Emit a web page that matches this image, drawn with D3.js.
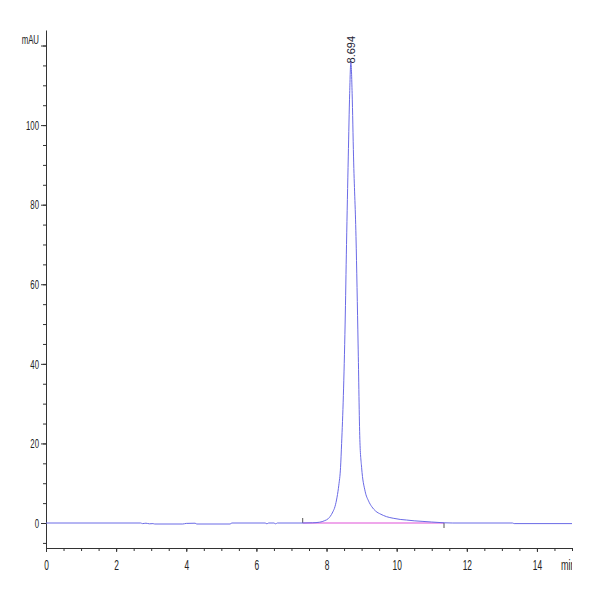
<!DOCTYPE html>
<html lang="en">
<head>
    <meta charset="UTF-8">
    <title>Chromatogram</title>
    <script src="https://d3js.org/d3.v7.min.js"></script>
    <style>
        body{
            margin: 0;
            background: white;
        }
        .axis text{
            font-family: "Liberation Sans", Arial, sans-serif;
            font-size: 13px;
            fill: #222;
        }
        .axis path, .axis line{
            stroke: #333;
        }
    </style>
</head>
<body>

<script>
    // retention time (min) and absorbance (mAU)
    const times = [0, 2.7, 2.75, 2.85, 2.95, 3.05, 3.1, 3.9, 4.0, 4.25, 4.3, 5.25, 5.3,
        6.25, 6.3, 6.35, 6.5, 6.55, 6.6, 7.3, 7.6, 7.8, 7.95, 8.05, 8.1, 8.18, 8.24,
        8.3, 8.35, 8.4, 8.43, 8.48, 8.53, 8.57, 8.62, 8.66, 8.694, 8.73, 8.77, 8.84,
        8.9, 8.95, 9.0, 9.1, 9.2, 9.29, 9.4, 9.55, 9.71, 9.9, 10.1, 10.28, 10.5,
        10.75, 11.0, 11.35, 11.6, 13.3, 13.35, 15]
    const mAU = [0, 0, -0.15, -0.05, -0.2, -0.15, -0.25, -0.25, -0.1, -0.05, -0.25, -0.25, 0,
        0, -0.2, 0, 0, -0.2, 0, 0, 0.05, 0.2, 0.6, 1.1, 1.6, 2.8, 4.1,
        6.5, 9.5, 14, 20, 32, 50, 70, 92, 108, 116, 108, 92, 72,
        45, 21, 14, 8, 5.5, 4.1, 3.0, 2.2, 1.6, 1.2, 0.9, 0.75, 0.55,
        0.4, 0.25, 0.05, 0, 0, -0.15, -0.15]

    // integration baseline and peak label
    const baseStart = [7.32, 0]
    const baseEnd = [11.35, 0]
    const peakLabel = "8.694"

    const xMajor = [0, 2, 4, 6, 8, 10, 12, 14]
    const yMajor = [0, 20, 40, 60, 80, 100, 120]

    const svg = d3.select("body").append("svg")
        .attr("width", 600)
        .attr("height", 600)

    const x = d3.scaleLinear().domain([0, 15]).range([46, 572])
    const y = d3.scaleLinear().domain([-6.28, 123.9]).range([548, 30])

    svg.append("clipPath").attr("id", "plot")
        .append("rect").attr("x", 0).attr("y", 0).attr("width", 572).attr("height", 600)

    // squeeze the tick text like the narrow font of the original
    function narrow(sel, k) {
        sel.each(function() {
            const w = this.getComputedTextLength()
            d3.select(this).attr("textLength", w * k).attr("lengthAdjust", "spacingAndGlyphs")
        })
    }

    // y axis, minor then major
    svg.append("g").attr("class", "axis")
        .attr("transform", "translate(46,0)")
        .call(d3.axisLeft(y).tickValues(d3.range(-5, 124, 5)).tickSize(3).tickFormat("").tickSizeOuter(0))
    svg.append("g").attr("class", "axis")
        .attr("transform", "translate(46,0)")
        .call(d3.axisLeft(y).tickValues(yMajor).tickSize(5).tickPadding(2).tickSizeOuter(0)
            .tickFormat(d => d == 120 ? "mAU" : d))
        .call(g => g.select(".domain").remove())
        .call(g => narrow(g.selectAll("text"), 0.6))
        .call(g => g.selectAll("text").filter(d => d == 120).attr("dy", "-0.15em"))

    // x axis
    svg.append("g").attr("class", "axis")
        .attr("transform", "translate(0,548)")
        .call(d3.axisBottom(x).tickValues(d3.range(0, 15.01, 0.5)).tickSize(3).tickFormat("").tickSizeOuter(0))
    svg.append("g").attr("class", "axis")
        .attr("transform", "translate(0,548)")
        .call(d3.axisBottom(x).tickValues(xMajor).tickSize(4).tickPadding(8).tickSizeOuter(0))
        .call(g => g.select(".domain").remove())
        .call(g => g.selectAll("text").style("font-size", "14px"))
        .call(g => narrow(g.selectAll("text"), 0.6))

    svg.append("text")
        .attr("x", 561).attr("y", 570)
        .attr("clip-path", "url(#plot)")
        .style("font-family", "Liberation Sans, Arial, sans-serif")
        .style("font-size", "14px")
        .style("fill", "#222")
        .text("min")
        .call(t => narrow(t, 0.65))

    // baseline
    svg.append("line")
        .attr("x1", x(baseStart[0])).attr("y1", y(baseStart[1]))
        .attr("x2", x(baseEnd[0])).attr("y2", y(baseEnd[1]))
        .attr("stroke", "#e050d8")
        .attr("stroke-width", 1.2)
    svg.append("line")
        .attr("x1", x(baseStart[0])).attr("x2", x(baseStart[0]))
        .attr("y1", y(baseStart[1]) - 5).attr("y2", y(baseStart[1]))
        .attr("stroke", "#555")
    svg.append("line")
        .attr("x1", x(baseEnd[0])).attr("x2", x(baseEnd[0]))
        .attr("y1", y(baseEnd[1])).attr("y2", y(baseEnd[1]) + 5)
        .attr("stroke", "#555")

    const line = d3.line()
        .x((d, i) => x(times[i]))
        .y(d => y(d))
        .curve(d3.curveMonotoneX)

    svg.append("path")
        .datum(mAU)
        .attr("d", line)
        .attr("fill", "none")
        .attr("stroke", "#6a6ae6")
        .attr("stroke-width", 1)

    // peak label
    const apex = mAU.indexOf(d3.max(mAU))
    svg.append("text")
        .attr("transform", "translate(" + (x(times[apex]) + 4.5) + "," + (y(mAU[apex]) + 2) + ") rotate(-90)")
        .style("font-family", "Liberation Sans, Arial, sans-serif")
        .style("font-size", "11px")
        .style("fill", "#223")
        .text(peakLabel)

</script>
</body>
</html>
